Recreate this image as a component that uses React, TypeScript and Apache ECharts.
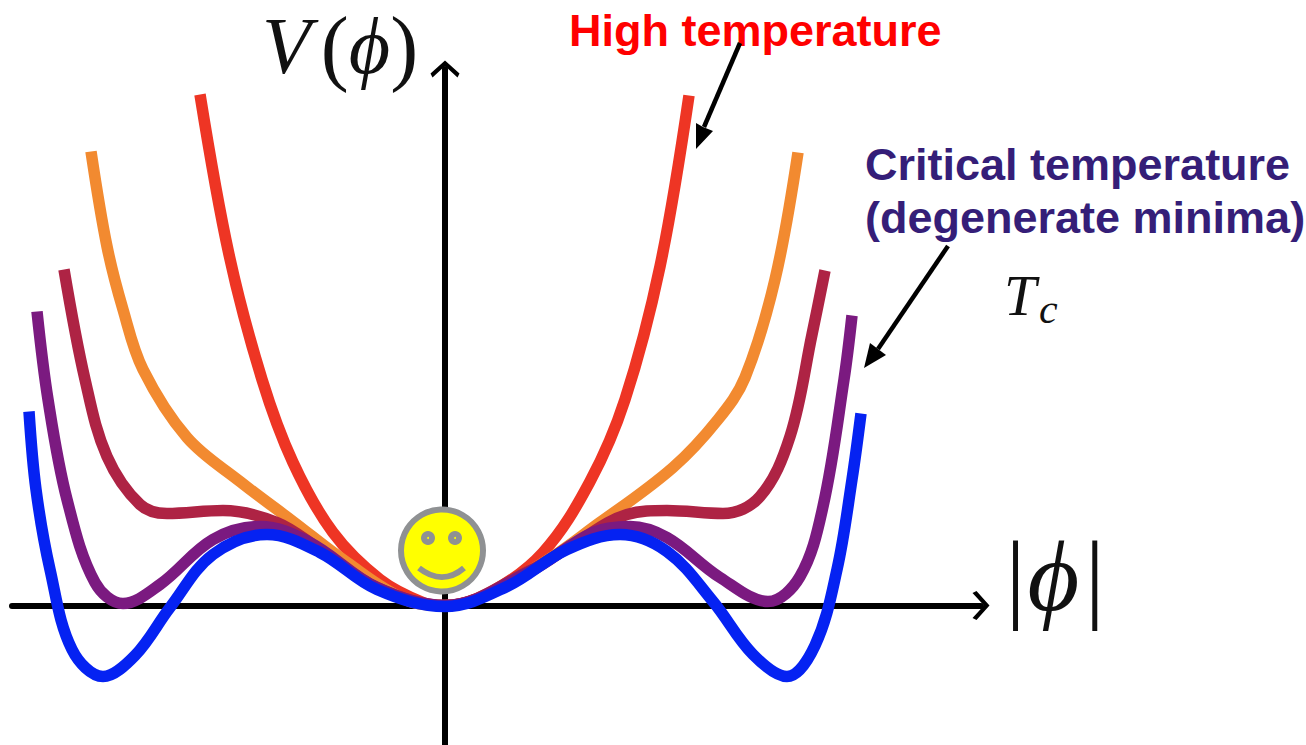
import React, { useEffect, useRef } from "react";
import * as echarts from "echarts";

const redCurve = [[-2.45,5.11],[-2.16,3.51],[-1.83,2.26],[-1.52,1.43],[-1.12,0.73],[-0.65,0.26],[-0.22,0.03],[0,0],[0.45,0.13],[0.98,0.53],[1.45,1.24],[1.8,2.06],[2.15,3.39],[2.44,5.1]];
const orangeCurve = [[-3.54,4.54],[-3.38,3.59],[-3.22,2.96],[-3.02,2.36],[-2.58,1.68],[-2.05,1.24],[-1.52,0.84],[-0.98,0.43],[-0.4,0.06],[0,0],[0.85,0.35],[1.55,0.83],[2.28,1.38],[2.73,1.86],[3.0,2.28],[3.3,3.26],[3.53,4.53]];
const crimsonCurve = [[-3.81,3.36],[-3.6,2.26],[-3.38,1.49],[-3.05,1.01],[-2.78,0.92],[-2.22,0.95],[-1.68,0.83],[-1.25,0.56],[-0.68,0.18],[0,0],[0.85,0.35],[1.28,0.61],[1.82,0.91],[2.22,0.95],[2.78,0.92],[3.15,1.09],[3.45,1.69],[3.67,2.71],[3.8,3.35]];
const purpleCurve = [[-4.08,2.94],[-3.97,2.06],[-3.78,1.06],[-3.5,0.23],[-3.22,0.02],[-2.85,0.21],[-2.32,0.66],[-1.85,0.79],[-1.35,0.63],[-0.68,0.18],[0,0],[0.85,0.34],[1.48,0.73],[1.85,0.79],[2.22,0.68],[2.75,0.28],[3.23,0.04],[3.55,0.29],[3.78,0.99],[3.99,2.26],[4.07,2.9]];
const blueCurve = [[-4.16,1.94],[-4.09,1.16],[-3.95,0.36],[-3.73,-0.44],[-3.42,-0.71],[-3.1,-0.5],[-2.75,-0.02],[-2.32,0.51],[-1.78,0.71],[-1.25,0.53],[-0.68,0.16],[0,-0.01],[0.62,0.19],[1.22,0.56],[1.75,0.71],[2.22,0.54],[2.68,0.04],[3.08,-0.49],[3.42,-0.71],[3.7,-0.4],[3.92,0.36],[4.07,1.26],[4.16,1.92]];

const curveNames = ["High temperature", "Intermediate", "Inflection", "Critical temperature", "Low temperature"];
const curveColors = ["#EE3524", "#F28A30", "#AE2344", "#7B1A80", "#0522F2"];
const curves = [redCurve, orangeCurve, crimsonCurve, purpleCurve, blueCurve];

const SERIF = "'Liberation Serif', 'DejaVu Serif', serif";
const SANS = "'Liberation Sans', Arial, sans-serif";
const chevron = "path://M145 0 L290 130 L270 170 L145 55 L20 170 L0 130 Z";
const GREY = "#8F9193";

function axis(min: number, max: number) {
  return {
    type: "value", min, max,
    axisLine: { show: true, onZero: true, symbol: ["none", chevron], symbolSize: [29, 17], lineStyle: { color: "#000", width: 6 } },
    axisTick: { show: false }, axisLabel: { show: false }, splitLine: { show: false },
  };
}

export default function App() {
  const ref = useRef<HTMLDivElement>(null);
  useEffect(() => {
    document.body.style.margin = "0";
    const chart = echarts.init(ref.current!, null, { renderer: "svg" });
    chart.setOption({
      animation: false,
      backgroundColor: "#fff",
      grid: { left: 12, right: 325, top: 69, bottom: 0 },
      xAxis: axis(-4.33, 5.36),
      yAxis: axis(-1.395, 5.365),
      series: curves.map((data, i) => ({
        name: curveNames[i], type: "line", data, smooth: 0.36, symbol: "none", clip: false, z: 2 + i,
        lineStyle: { color: curveColors[i], width: 11.5, cap: "butt", join: "round" },
      })),
      graphic: [
        { type: "text", z: 20, x: 262, y: 4, style: {
          text: "{v|V}{p|(}{f|ϕ}{p|)}",
          rich: {
            v: { fontFamily: SERIF, fontStyle: "italic", fontSize: 80, fill: "#111", padding: [0, 10, 0, 0] },
            p: { fontFamily: SERIF, fontSize: 84, fontWeight: 300, fill: "#111" },
            f: { fontFamily: SERIF, fontStyle: "italic", fontSize: 80, fill: "#111" },
          } } },
        { type: "text", z: 20, x: 1000, y: 526, style: { text: "|ϕ|", fontFamily: SERIF, fontStyle: "italic", fontSize: 100, fill: "#111" } },
        { type: "text", z: 20, x: 1004, y: 266, style: { text: "T", fontFamily: SERIF, fontStyle: "italic", fontSize: 58, fill: "#111" } },
        { type: "text", z: 20, x: 1039, y: 288, style: { text: "c", fontFamily: SERIF, fontStyle: "italic", fontSize: 42, fill: "#111" } },
        { type: "text", z: 20, x: 569, y: 8, style: { text: "High temperature", fontFamily: SANS, fontWeight: "bold", fontSize: 45, fill: "#FF0000" } },
        { type: "text", z: 20, x: 865, y: 142, style: { text: "Critical temperature", fontFamily: SANS, fontWeight: "bold", fontSize: 45, fill: "#351E78" } },
        { type: "text", z: 20, x: 865, y: 195, style: { text: "(degenerate minima)", fontFamily: SANS, fontWeight: "bold", fontSize: 45, fill: "#351E78" } },
        { type: "line", z: 20, shape: { x1: 740, y1: 43, x2: 704, y2: 127 }, style: { stroke: "#000", lineWidth: 4.5 } },
        { type: "polygon", z: 20, shape: { points: [[696, 149], [696, 123], [703, 127], [713, 131]] }, style: { fill: "#000" } },
        { type: "line", z: 20, shape: { x1: 948, y1: 246, x2: 878, y2: 349 }, style: { stroke: "#000", lineWidth: 4.5 } },
        { type: "polygon", z: 20, shape: { points: [[864, 368], [870, 343], [878, 349], [886, 355]] }, style: { fill: "#000" } },
        { type: "circle", z: 30, shape: { cx: 442, cy: 550.5, r: 41 }, style: { fill: "#FFFF00", stroke: GREY, lineWidth: 6 } },
        { type: "circle", z: 31, shape: { cx: 428, cy: 538, r: 7 }, style: { fill: GREY } },
        { type: "circle", z: 31, shape: { cx: 455, cy: 538, r: 7 }, style: { fill: GREY } },
        { type: "circle", z: 32, shape: { cx: 428, cy: 538, r: 1 }, style: { fill: "#FFFF00" } },
        { type: "circle", z: 32, shape: { cx: 455, cy: 538, r: 1 }, style: { fill: "#FFFF00" } },
        { type: "bezierCurve", z: 31, shape: { x1: 419, y1: 568, cpx1: 434, cpy1: 580, cpx2: 450, cpy2: 580, x2: 464, y2: 568 }, style: { stroke: GREY, lineWidth: 6, fill: "none" } },
      ],
    });
    return () => chart.dispose();
  }, []);
  return <div ref={ref} style={{ width: 1306, height: 745 }} />;
}
